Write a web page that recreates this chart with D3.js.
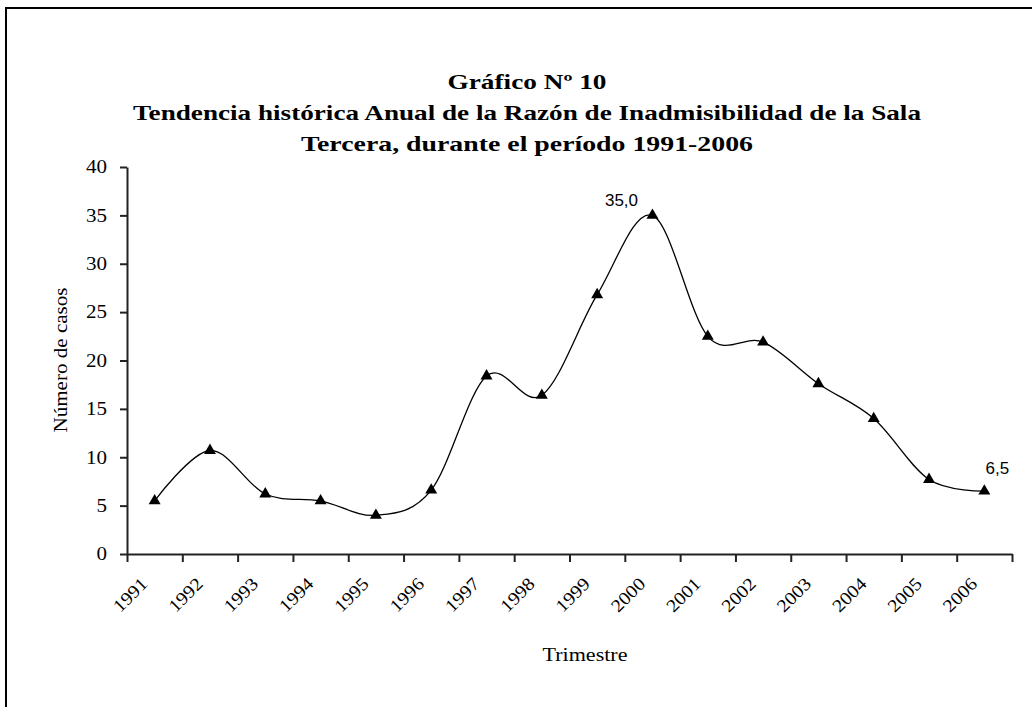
<!DOCTYPE html>
<html>
<head>
<meta charset="utf-8">
<script src="https://cdn.jsdelivr.net/npm/d3@7"></script>
<style>
  body { margin: 0; background: #fff; }
  svg { display: block; }
</style>
</head>
<body>
<svg id="chart" width="1032" height="707"></svg>
<script>
// data
const years = ['1991','1992','1993','1994','1995','1996','1997','1998',
               '1999','2000','2001','2002','2003','2004','2005','2006'];
const razon = [5.5, 10.7, 6.2, 5.5, 4.0, 6.6, 18.4, 16.4,
               26.8, 35.0, 22.5, 21.9, 17.6, 14.0, 7.7, 6.5];
const yTicks = [0, 5, 10, 15, 20, 25, 30, 35, 40];
const labelled = ['2000', '2006'];
const titleLines = ['Gráfico Nº 10',
  'Tendencia histórica Anual de la Razón de Inadmisibilidad de la Sala',
  'Tercera, durante el período 1991-2006'];

const svg = d3.select('#chart');
const serif = '"Liberation Serif", "Times New Roman", serif';
const sans = '"Liberation Sans", Arial, sans-serif';

// outer frame (runs off the right and bottom edge)
svg.append('rect')
    .attr('x', 6).attr('y', 8)
    .attr('width', 1100).attr('height', 800)
    .attr('fill', 'none')
    .attr('stroke', '#000')
    .attr('stroke-width', 2);

const plotL = 127, plotR = 1012, plotT = 167, plotB = 554;

const x = d3.scaleBand().domain(years).range([plotL, plotR]);
const xEdge = d3.scaleLinear().domain([0, years.length]).range([plotL, plotR]);
const y = d3.scaleLinear().domain([0, 40]).range([plotB, plotT]);
const cx = d => x(d) + x.bandwidth() / 2;

// title (the original font is wide, so stretch each line to its width)
const titleW = [159, 788, 452];
const title = svg.append('g').attr('class', 'title');
title.selectAll('text')
  .data(titleLines)
  .enter().append('text')
    .attr('x', 527)
    .attr('y', (d, i) => 89 + i * 31)
    .attr('text-anchor', 'middle')
    .attr('textLength', (d, i) => titleW[i])
    .attr('lengthAdjust', 'spacingAndGlyphs')
    .style('font-family', serif)
    .style('font-weight', 'bold')
    .style('font-size', '21px')
    .text(d => d);

// y axis
const yAxis = svg.append('g')
    .attr('transform', `translate(${plotL},0)`)
    .call(d3.axisLeft(y).tickValues(yTicks).tickSize(7).tickSizeOuter(0).tickPadding(13));
yAxis.select('.domain').attr('stroke', '#222').attr('stroke-width', 2);
yAxis.selectAll('.tick line').attr('stroke', '#222').attr('stroke-width', 2);
yAxis.selectAll('.tick text')
    .style('font-family', serif)
    .style('font-size', '18px')
    .attr('fill', '#000')
    .attr('textLength', d => String(d).length * 10.5)
    .attr('lengthAdjust', 'spacingAndGlyphs');

// x axis: ticks between categories
const xAxis = svg.append('g')
    .attr('transform', `translate(0,${plotB})`)
    .call(d3.axisBottom(xEdge).tickValues(d3.range(0, years.length + 1))
            .tickSize(8).tickSizeOuter(0).tickFormat(''));
xAxis.select('.domain').attr('stroke', '#222').attr('stroke-width', 2);
xAxis.selectAll('.tick line').attr('stroke', '#222').attr('stroke-width', 2);

svg.append('g').attr('class', 'xlabels')
  .selectAll('text')
  .data(years)
  .enter().append('text')
    .attr('transform', d => `translate(${cx(d) - 6},${plotB + 31}) rotate(-45)`)
    .attr('text-anchor', 'end')
    .attr('textLength', 40)
    .attr('lengthAdjust', 'spacingAndGlyphs')
    .style('font-family', serif)
    .style('font-size', '18px')
    .text(d => d);

// axis titles
svg.append('text')
    .attr('transform', `translate(67,360) rotate(-90)`)
    .attr('text-anchor', 'middle')
    .attr('textLength', 145)
    .attr('lengthAdjust', 'spacingAndGlyphs')
    .style('font-family', serif)
    .style('font-size', '18px')
    .text('Número de casos');

svg.append('text')
    .attr('x', 585).attr('y', 661)
    .attr('text-anchor', 'middle')
    .attr('textLength', 85)
    .attr('lengthAdjust', 'spacingAndGlyphs')
    .style('font-family', serif)
    .style('font-size', '18px')
    .text('Trimestre');

// smoothed line
const line = d3.line()
    .x((d, i) => cx(years[i]))
    .y(d => y(d))
    .curve(d3.curveCardinal.tension(0));

svg.append('path')
    .datum(razon)
    .attr('d', line)
    .attr('fill', 'none')
    .attr('stroke', '#000')
    .attr('stroke-width', 1.3);

// triangle markers
svg.append('g').attr('class', 'markers')
  .selectAll('path')
  .data(razon)
  .enter().append('path')
    .attr('transform', (d, i) => `translate(${cx(years[i])},${y(d)})`)
    .attr('d', d3.symbol().type(d3.symbolTriangle).size(62))
    .attr('fill', '#000');

// data labels
const es = d3.formatLocale({decimal: ',', thousands: '.', grouping: [3], currency: ['', '']});
const fmt = es.format('.1f');
const labelOffset = {'2000': [-31, -9], '2006': [13, -17]};
svg.append('g').attr('class', 'labels')
  .selectAll('text')
  .data(labelled)
  .enter().append('text')
    .attr('x', d => cx(d) + labelOffset[d][0])
    .attr('y', d => y(razon[years.indexOf(d)]) + labelOffset[d][1])
    .attr('text-anchor', 'middle')
    .style('font-family', sans)
    .style('font-size', '17px')
    .text(d => fmt(razon[years.indexOf(d)]));
</script>
</body>
</html>
